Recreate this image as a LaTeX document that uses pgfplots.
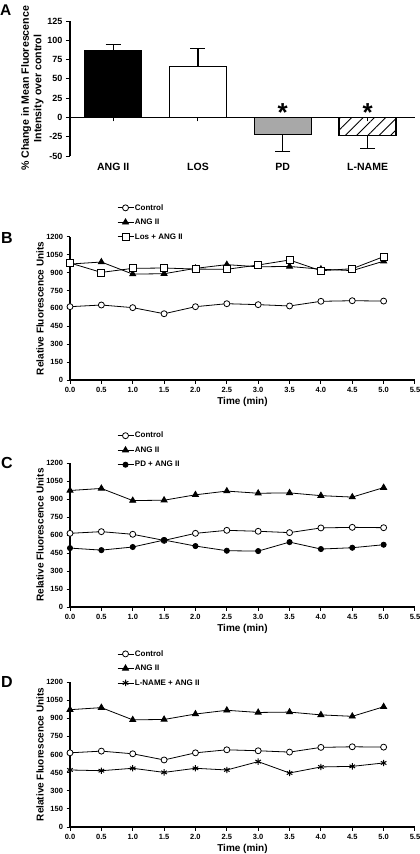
\documentclass[border=0pt]{standalone}
\usepackage{pgfplots}
\pgfplotsset{compat=1.18}
\usepackage{fontspec}
\setmainfont{Liberation Sans}
\usetikzlibrary{patterns.meta}

\pgfplotsset{
  panel/.style={
    width=345pt, scale only axis,
    axis line style={line width=1.1pt, -},
    tick style={line width=1pt, black},
    tick align=outside, major tick length=3.5pt,
    tick label style={font=\bfseries\fontsize{7.5}{8}\selectfont},
    /pgf/number format/assume math mode=true,
    /pgf/number format/1000 sep={},
    scaled ticks=false,
  },
  timepanel/.style={panel, height=144pt,
    axis x line*=bottom, axis y line*=left,
    xmin=0, xmax=5.5, ymin=0, ymax=1200,
    xtick={0,0.5,1,1.5,2,2.5,3,3.5,4,4.5,5,5.5}, ytick={0,150,...,1200},
    xticklabel style={/pgf/number format/.cd, fixed, fixed zerofill, precision=1},
    xlabel={Time (min)}, ylabel={Relative Fluorescence Units},
    label style={font=\bfseries\fontsize{10}{11}\selectfont},
    xlabel style={at={(axis description cs:0.5,-0.153)}, anchor=center},
    ylabel style={at={(axis description cs:-0.087,0.5)}, anchor=center},
    legend cell align=left,
    legend style={draw=none, fill=none, inner sep=0pt, row sep=5pt,
      font=\bfseries\fontsize{8}{9}\selectfont,
      nodes={inner sep=1pt, text height=6pt, text depth=1.5pt}},
    legend image code/.code={\draw[mark repeat=2,mark phase=2,#1] plot coordinates {(0pt,0pt) (8pt,0pt) (16pt,0pt)};},
  },
  ctrl/.style={black, line width=0.8pt, mark=*, mark size=3pt, mark options={fill=white, line width=0.8pt}},
  ang/.style={black, line width=0.8pt, mark=triangle*, mark size=3.5pt, mark options={fill=black}},
  los/.style={black, line width=0.8pt, mark=square*, mark size=3.5pt, mark options={fill=white, line width=0.8pt}},
  pd/.style={black, line width=0.8pt, mark=*, mark size=2.6pt, mark options={fill=black}},
  lnm/.style={black, line width=0.8pt, mark=asterisk, mark size=3.2pt, mark options={line width=1pt}},
}

\pgfplotstableread{
t ctrl ang los pd lnm
0.0 614 971 980 491 472
0.5 628 988 901 474 466
1.0 606 887 935 500 486
1.5 555 890 938 558 452
2.0 614 935 929 508 486
2.5 639 966 927 469 472
3.0 631 948 963 466 541
3.5 620 951 1005 541 447
4.0 659 928 915 483 497
4.5 664 916 932 494 502
5.0 661 995 1033 519 530
}\timedata

\begin{document}
\begin{tikzpicture}
\path[use as bounding box] (0pt,0pt) rectangle (420pt,-854pt);
\clip (0pt,0pt) rectangle (420pt,-854pt);

% ---------------- Panel A ----------------
\begin{axis}[panel, at={(70pt,-156pt)}, anchor=south west, height=135pt,
  axis y line*=left, axis x line*=middle,
  hide obscured x ticks=false, hide obscured y ticks=false,
  xmin=-0.509, xmax=3.559, ymin=-50, ymax=125,
  ytick={-50,-25,...,125},
  tick label style={font=\bfseries\fontsize{9}{10}\selectfont},
  xtick={0,1,2,3}, xticklabels={ANG II, LOS, PD, L-NAME},
  xticklabel style={font=\bfseries\fontsize{10.5}{11}\selectfont, yshift=-38pt},
  major tick length=4pt,
  ybar, bar width=57pt, bar shift=0pt,
  ylabel={\% Change in Mean Fluorescence\\Intensity over control},
  ylabel style={align=center, font=\bfseries\fontsize{10.6}{12.5}\selectfont,
    at={(axis description cs:-0.109,0.5)}, anchor=center},
  error bars/error bar style={line width=1.2pt, black},
  error bars/error mark options={rotate=90, mark size=7.5pt, line width=1.2pt, black},
]
\addplot[fill=black, draw=black, line width=1.4pt,
  error bars/.cd, y dir=plus, y explicit] coordinates {(0,86.5) +- (0,8)};
\addplot[fill=white, draw=black, line width=1.4pt,
  error bars/.cd, y dir=plus, y explicit] coordinates {(1,66) +- (0,23)};
\addplot[fill={rgb,255:red,168;green,168;blue,168}, draw=black, line width=1.4pt,
  error bars/.cd, y dir=minus, y explicit] coordinates {(2,-22) +- (0,22.5)};
\addplot[pattern={Lines[angle=45, distance=8pt, line width=0.9pt]}, draw=black, line width=1.4pt,
  error bars/.cd, y dir=minus, y explicit] coordinates {(3,-23.5) +- (0,17)};
\node[font=\bfseries\fontsize{26}{26}\selectfont, inner sep=0pt] at (axis cs:2,6) {*};
\node[font=\bfseries\fontsize{26}{26}\selectfont, inner sep=0pt] at (axis cs:3,6) {*};
\end{axis}

% ---------------- Panel B ----------------
\begin{axis}[timepanel, at={(70pt,-380pt)}, anchor=south west, height=143.3pt,
  legend style={at={(axis description cs:0.136,1.236)}, anchor=north west}]
\addplot[ctrl] table[x=t, y=ctrl] {\timedata};
\addplot[ang] table[x=t, y=ang] {\timedata};
\addplot[los] table[x=t, y=los] {\timedata};
\legend{Control, ANG II, Los + ANG II}
\end{axis}

% ---------------- Panel C ----------------
\begin{axis}[timepanel, at={(70pt,-607pt)}, anchor=south west, height=144pt,
  legend style={at={(axis description cs:0.136,1.224)}, anchor=north west}]
\addplot[ctrl] table[x=t, y=ctrl] {\timedata};
\addplot[ang] table[x=t, y=ang] {\timedata};
\addplot[pd] table[x=t, y=pd] {\timedata};
\legend{Control, ANG II, PD + ANG II}
\end{axis}

% ---------------- Panel D ----------------
\begin{axis}[timepanel, at={(70pt,-827pt)}, anchor=south west, height=145pt,
  legend style={at={(axis description cs:0.136,1.228)}, anchor=north west}]
\addplot[ctrl] table[x=t, y=ctrl] {\timedata};
\addplot[ang] table[x=t, y=ang] {\timedata};
\addplot[lnm] table[x=t, y=lnm] {\timedata};
\legend{Control, ANG II, L-NAME + ANG II}
\end{axis}

% panel letters
\node[anchor=base west, inner sep=0pt, font=\bfseries\fontsize{15.5}{16}\selectfont] at (0pt,-15pt) {A};
\node[anchor=base west, inner sep=0pt, font=\bfseries\fontsize{16}{16}\selectfont] at (1pt,-243pt) {B};
\node[anchor=base west, inner sep=0pt, font=\bfseries\fontsize{16}{16}\selectfont] at (1pt,-468pt) {C};
\node[anchor=base west, inner sep=0pt, font=\bfseries\fontsize{16}{16}\selectfont] at (1pt,-687pt) {D};
\end{tikzpicture}
\end{document}
